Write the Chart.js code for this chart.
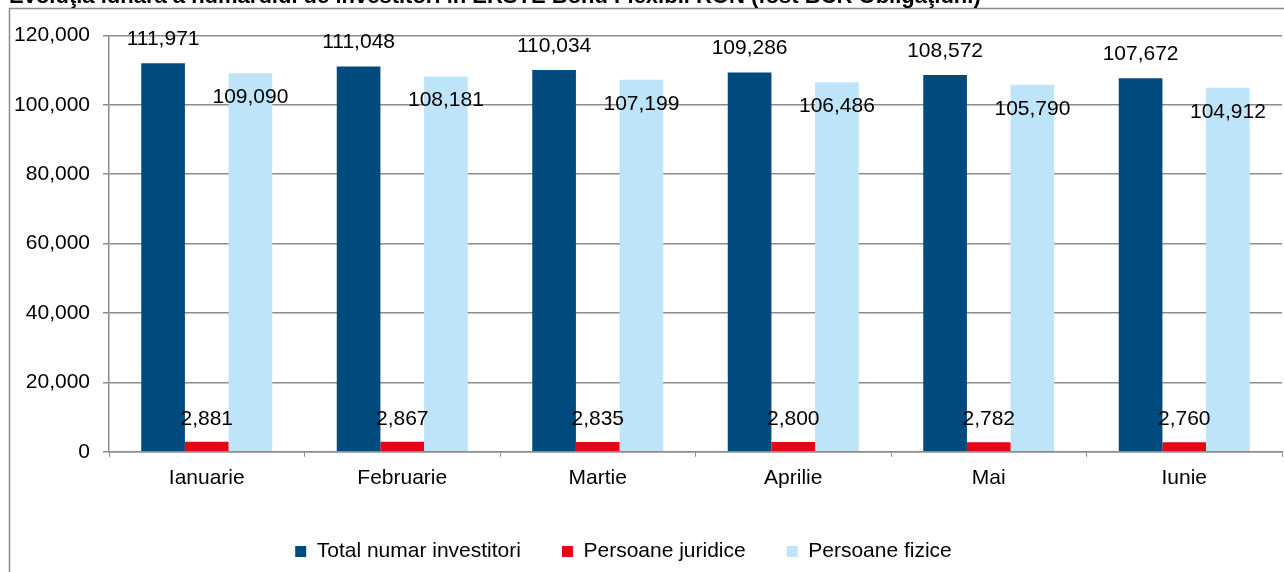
<!DOCTYPE html>
<html>
<head>
<meta charset="utf-8">
<script src="https://cdn.jsdelivr.net/npm/chart.js@4.4.1/dist/chart.umd.min.js"></script>
<style>
  html, body { margin: 0; padding: 0; background: #ffffff; }
  #wrap { position: relative; width: 1284px; height: 572px; overflow: hidden; }
  #cv { position: absolute; left: 0; top: -16px; }
</style>
</head>
<body>
<div id="wrap"><canvas id="cv" width="1284" height="588"></canvas></div>
<script>
const titleText = "Evoluţia lunara a numarului de investitori in ERSTE Bond Flexibil RON (fost BCR Obligaţiuni)";
const months = ["Ianuarie", "Februarie", "Martie", "Aprilie", "Mai", "Iunie"];
const seriesNames = ["Total numar investitori", "Persoane juridice", "Persoane fizice"];
const totalInvestors = [111971, 111048, 110034, 109286, 108572, 107672];
const legalPersons = [2881, 2867, 2835, 2800, 2782, 2760];
const naturalPersons = [109090, 108181, 107199, 106486, 105790, 104912];
const yTicks = [0, 20000, 40000, 60000, 80000, 100000, 120000];

const FONT = "'Liberation Sans', Arial, Helvetica, sans-serif";
const SHIFT = 16;

const frameBox = {
  id: 'frameBox',
  beforeDraw(chart) {
    const ctx = chart.ctx;
    ctx.save();
    ctx.strokeStyle = '#8c8c8c';
    ctx.lineWidth = 1.5;
    ctx.strokeRect(9.5, 8 + SHIFT + 0.5, 1400, 1000);
    ctx.restore();
  }
};

const legendShift = {
  id: 'legendShift',
  afterLayout(chart) {
    if (chart.legend) {
      chart.legend.left -= 22;
      chart.legend.right -= 22;
    }
  }
};

const barValueLabels = {
  id: 'barValueLabels',
  afterDatasetsDraw(chart, args, opts) {
    const ctx = chart.ctx;
    ctx.save();
    ctx.font = opts.size + 'px ' + FONT;
    ctx.fillStyle = '#000';
    ctx.textAlign = 'center';
    ctx.textBaseline = 'middle';
    chart.data.datasets.forEach((ds, di) => {
      const meta = chart.getDatasetMeta(di);
      const off = opts.offsets[di];
      meta.data.forEach((bar, i) => {
        ctx.fillText(ds.data[i].toLocaleString('en-US'), bar.x, bar.y + off);
      });
    });
    ctx.restore();
  }
};

new Chart(document.getElementById('cv'), {
  type: 'bar',
  data: {
    labels: months,
    datasets: [
      { label: seriesNames[0], data: totalInvestors, backgroundColor: '#004a7d' },
      { label: seriesNames[1], data: legalPersons, backgroundColor: '#e30613' },
      { label: seriesNames[2], data: naturalPersons, backgroundColor: '#bde4f9' }
    ]
  },
  options: {
    responsive: false,
    animation: false,
    devicePixelRatio: 1,
    layout: { padding: { left: 9, right: 2, top: 0, bottom: 0 } },
    datasets: { bar: { categoryPercentage: 0.67, barPercentage: 1.0 } },
    scales: {
      x: {
        grid: { drawOnChartArea: false, drawTicks: true, tickLength: 5, color: '#8c8c8c', offset: true },
        border: { display: true, color: '#8c8c8c', width: 1.5 },
        ticks: { color: '#000', font: { family: FONT, size: 21 }, padding: 9 }
      },
      y: {
        min: 0, max: 120000,
        afterBuildTicks(axis) { axis.ticks = yTicks.map(v => ({ value: v })); },
        afterFit(scale) { scale.width = 100; },
        grid: { color: '#8c8c8c', lineWidth: 1.5, tickLength: 6 },
        border: { display: true, color: '#8c8c8c', width: 1.5 },
        ticks: {
          color: '#000', font: { family: FONT, size: 21 }, padding: 13,
          callback: v => v.toLocaleString('en-US')
        }
      }
    },
    plugins: {
      title: {
        display: true, text: titleText, align: 'start', color: '#000',
        font: { family: FONT, size: 22, weight: 'bold' },
        padding: { top: 0, bottom: 25 }
      },
      legend: {
        position: 'bottom',
        labels: {
          color: '#000', font: { family: FONT, size: 21 },
          boxWidth: 11, boxHeight: 11, padding: 41
        }
      },
      tooltip: { enabled: false },
      barValueLabels: { size: 21, offsets: [-24, -23, 24] }
    }
  },
  plugins: [frameBox, legendShift, barValueLabels]
});
</script>
</body>
</html>
